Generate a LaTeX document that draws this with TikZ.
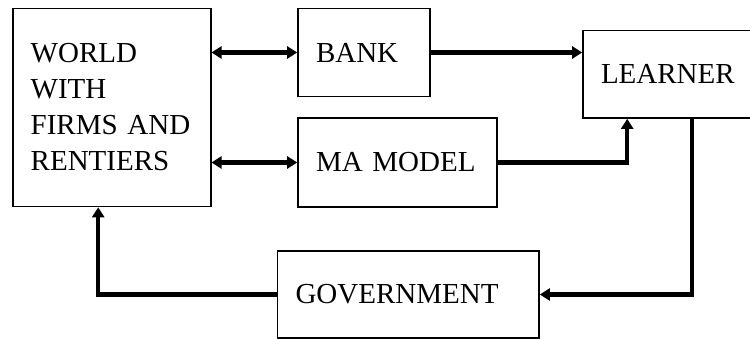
\documentclass[tikz,border=0pt]{standalone}
\usepackage{fontspec}
\setmainfont{Liberation Serif}
\usetikzlibrary{arrows.meta, positioning, calc}

\begin{document}
\begin{tikzpicture}[x=1pt, y=-1pt,
  block/.style={rectangle, draw, line width=1.6pt, inner xsep=18pt, inner ysep=0pt, align=left, font=\fontsize{29}{36}\selectfont},
  flow/.style={-{Triangle[length=10pt, width=12pt]}, line width=4.2pt},
  both/.style={{Triangle[length=10pt, width=12pt]}-{Triangle[length=10pt, width=12pt]}, line width=4.2pt}
]
\useasboundingbox (0,0) rectangle (750,339);

% Boxes
\node[block, text width=162pt, minimum height=198pt] (world) at (111.7,107.5) {WORLD\\WITH\\FIRMS AND\\RENTIERS};
\node[block, text width=96pt, minimum height=88pt] (bank) at (364,52.5) {BANK};
\node[block, text width=163pt, minimum height=89pt] (ma) at (397.5,162.5) {MA MODEL};
\node[block, text width=136pt, minimum height=87.5pt] (learner) at (669,74.3) {LEARNER};
\node[block, text width=225.5pt, minimum height=87pt] (gov) at (408.3,294.5) {GOVERNMENT};

% Connectors
\draw[both] (world.east |- bank.west) -- (bank.west);
\draw[both] (world.east |- ma.west) -- (ma.west);
\draw[flow] (bank.east) -- (bank.east -| learner.west);
\draw[flow] (ma.east) -| ([xshift=45pt]learner.south west);
\draw[flow] ([xshift=110pt]learner.south west) |- (gov.east);
\draw[flow] (gov.west) -| ([xshift=86.3pt]world.south west);

\end{tikzpicture}
\end{document}
